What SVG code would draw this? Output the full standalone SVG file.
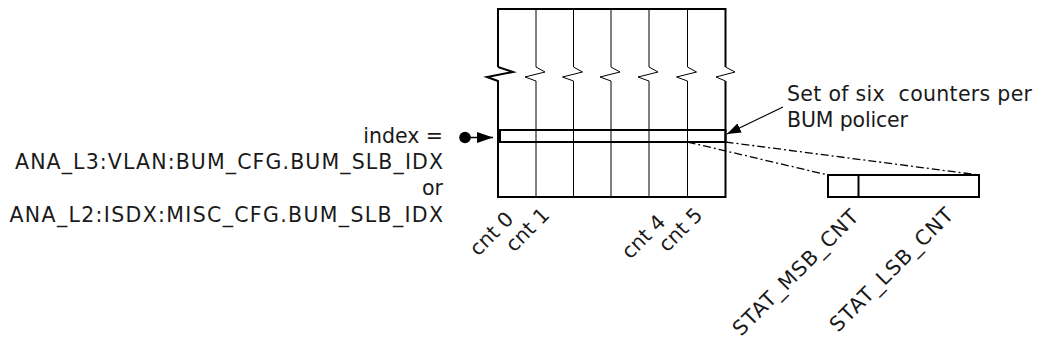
<svg xmlns="http://www.w3.org/2000/svg" width="1040" height="347" viewBox="0 0 1040 347">
<style>
.t{font-family:"DejaVu Sans",Verdana,sans-serif;font-size:20.5px;fill:#1a1a1a}
.thick{fill:none;stroke:#000;stroke-width:2}
.thin{fill:none;stroke:#000;stroke-width:1}
.dd{fill:none;stroke:#000;stroke-width:1.3;stroke-dasharray:8 3 2 3}
</style>
<defs>
<marker id="ah" markerWidth="16" markerHeight="11" refX="16" refY="5.5" orient="auto" markerUnits="userSpaceOnUse">
<path d="M0,0 L16,5.5 L0,11 Z" fill="#000"/>
</marker>
<marker id="ah2" markerWidth="14" markerHeight="10" refX="14" refY="5" orient="auto" markerUnits="userSpaceOnUse">
<path d="M0,0 L14,5 L0,10 Z" fill="#000"/>
</marker>
</defs>
<rect width="1040" height="347" fill="#fff"/>
<g id="counter-table">
<path class="thin" d="M536,9 V67 L545,72 L525,77 L536,81 V197"/>
<path class="thin" d="M573.5,9 V67 L582.5,72 L562.5,77 L573.5,81 V197"/>
<path class="thin" d="M611,9 V67 L620,72 L600,77 L611,81 V197"/>
<path class="thin" d="M649,9 V67 L658,72 L638,77 L649,81 V197"/>
<path class="thin" d="M687.5,9 V67 L696.5,72 L676.5,77 L687.5,81 V197"/>
<path class="thick" d="M498,67 V9 H725.5 V67"/>
<path class="thin" d="M725.5,67 L735,72 L716,77 L725.5,81"/>
<path class="thick" d="M498,67 L513,72 L487,77 L498,81 V197 H725.5 V81"/>
<rect class="thick" x="500" y="130" width="225.5" height="12"/>
</g>
<g id="register">
<rect class="thick" x="828" y="175" width="151" height="22"/>
<line class="thick" x1="858.5" y1="175" x2="858.5" y2="197"/>
</g>
<g id="connectors">
<circle cx="465" cy="137.5" r="5.8" fill="#000"/>
<line x1="465" y1="137.5" x2="493" y2="137.5" stroke="#000" stroke-width="1.5" marker-end="url(#ah)"/>
<line x1="783" y1="107" x2="727" y2="134" stroke="#000" stroke-width="1.2" marker-end="url(#ah2)"/>
<line class="dd" x1="687.5" y1="142" x2="828" y2="175"/>
<line class="dd" x1="725.5" y1="142" x2="979" y2="175"/>
</g>
<g id="labels">
<text class="t" x="443" y="143" text-anchor="end">index =</text>
<text class="t" x="15" y="169" textLength="428" lengthAdjust="spacing">ANA_L3:VLAN:BUM_CFG.BUM_SLB_IDX</text>
<text class="t" x="443" y="195" text-anchor="end">or</text>
<text class="t" x="9.5" y="221.5" textLength="433.5" lengthAdjust="spacing">ANA_L2:ISDX:MISC_CFG.BUM_SLB_IDX</text>
<text class="t" x="787" y="101" textLength="245" lengthAdjust="spacing" xml:space="preserve">Set of six  counters per</text>
<text class="t" x="787" y="126.5" textLength="121" lengthAdjust="spacing">BUM policer</text>
<text class="t" transform="translate(478,257) rotate(-45)">cnt 0</text>
<text class="t" transform="translate(514,253) rotate(-45)">cnt 1</text>
<text class="t" transform="translate(630,260) rotate(-45)">cnt 4</text>
<text class="t" transform="translate(667,253) rotate(-45)">cnt 5</text>
<text class="t" transform="translate(741,337) rotate(-45)" textLength="168" lengthAdjust="spacing">STAT_MSB_CNT</text>
<text class="t" transform="translate(838,333) rotate(-45)" textLength="165" lengthAdjust="spacing">STAT_LSB_CNT</text>
</g>
</svg>
